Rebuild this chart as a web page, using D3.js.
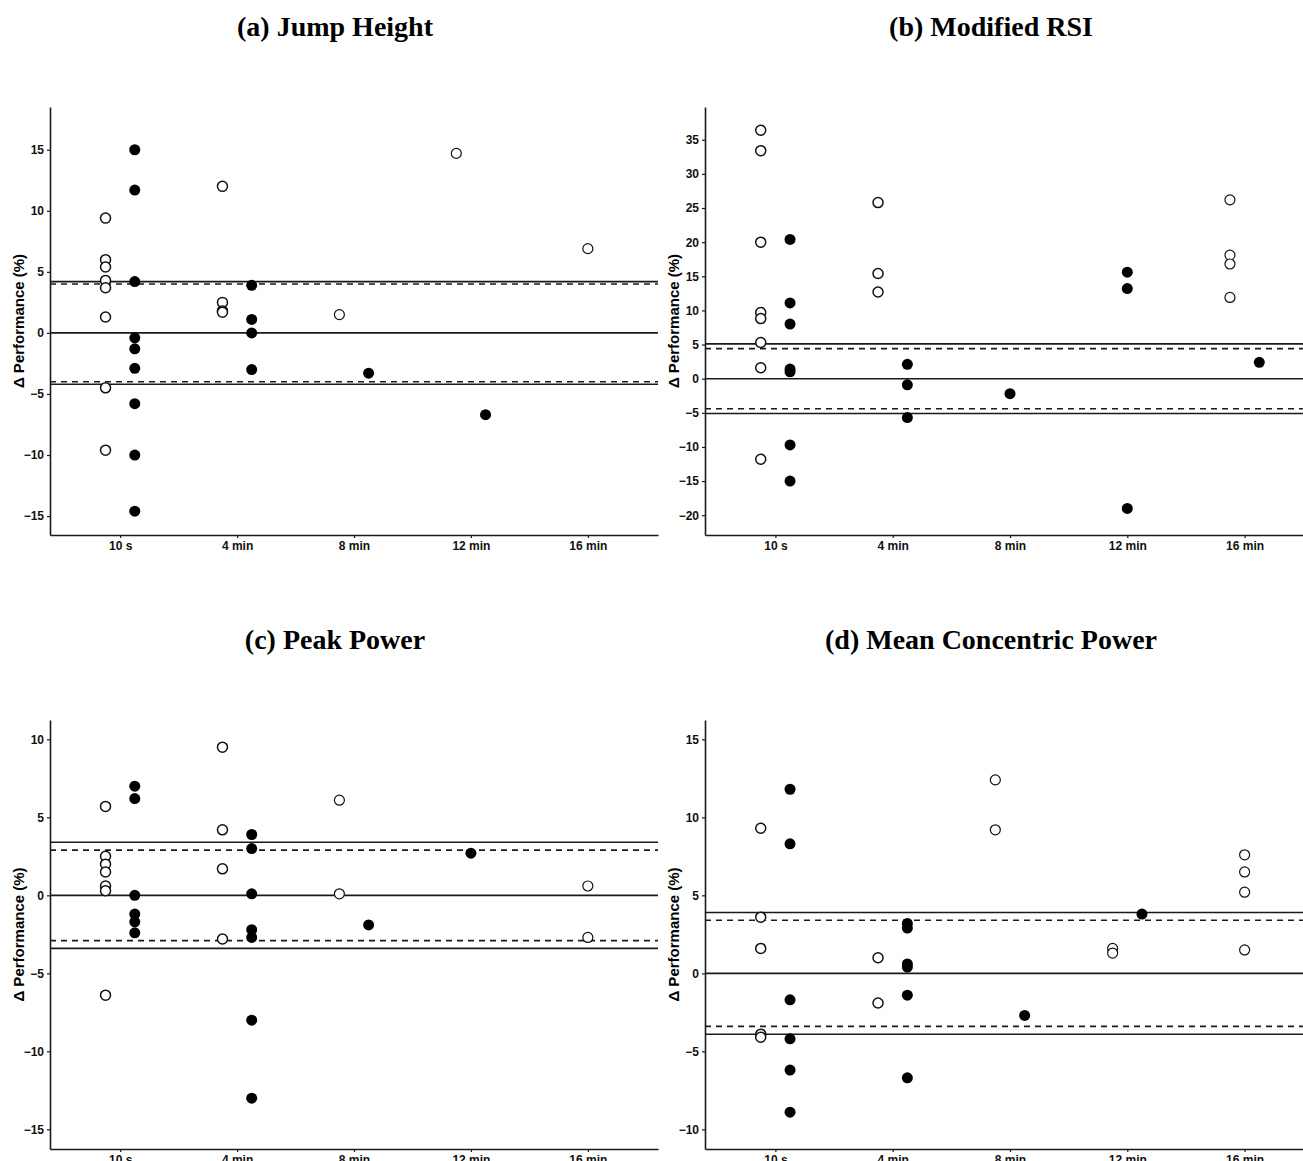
<!DOCTYPE html>
<html>
<head>
<meta charset="utf-8">
<script src="https://cdn.jsdelivr.net/npm/d3@7"></script>
<style>
  body { margin: 0; background: #fff; }
  .title { font-family: "Liberation Serif", "Times New Roman", serif; font-weight: bold; font-size: 28px; text-anchor: middle; }
  .axisLb { font-family: "Liberation Sans", Arial, sans-serif; font-weight: bold; font-size: 15px; text-anchor: middle; }
  .tick text { font-family: "Liberation Sans", Arial, sans-serif; font-weight: bold; font-size: 12px; fill: #111; }
</style>
</head>
<body>
<div id="main"></div>
<script>
// time points on the x-axis
const timeLabels = ["10 s", "4 min", "8 min", "12 min", "16 min"];

// values per time point: open circles / filled circles
const jumpOpen   = [[9.4, 6.0, 5.4, 4.3, 3.7, 1.3, -4.5, -9.6], [12.0, 2.5, 1.8, 1.7], [1.5], [14.7], [6.9]];
const jumpFilled = [[15.0, 11.7, 4.2, -0.4, -1.3, -2.9, -5.8, -10.0, -14.6], [3.9, 1.1, 0.0, -3.0], [-3.3], [-6.7], []];

const rsiOpen   = [[36.4, 33.4, 20.0, 9.7, 8.8, 5.3, 1.6, -11.8], [25.8, 15.4, 12.7], [], [], [26.2, 18.1, 16.8, 11.9]];
const rsiFilled = [[20.4, 11.1, 8.0, 1.4, 1.0, -9.7, -15.0], [2.1, -0.9, -5.7], [-2.2], [15.6, 13.2, -19.0], [2.4]];

const peakOpen   = [[5.7, 2.5, 2.0, 1.5, 0.6, 0.3, -6.4], [9.5, 4.2, 1.7, -2.8], [6.1, 0.1], [], [0.6, -2.7]];
const peakFilled = [[7.0, 6.2, 0.0, -1.2, -1.7, -2.4], [3.9, 3.0, 0.1, -2.2, -2.7, -8.0, -13.0], [-1.9], [2.7], []];

const mcpOpen   = [[9.3, 3.6, 1.6, -3.9, -4.1], [1.0, -1.9], [12.4, 9.2], [1.6, 1.3], [7.6, 6.5, 5.2, 1.5]];
const mcpFilled = [[11.8, 8.3, -1.7, -4.2, -6.2, -8.9], [3.2, 2.9, 0.6, 0.4, -1.4, -6.7], [-2.7], [3.8], []];

// limits drawn as horizontal lines (+/-)
const panelTitles   = ["(a) Jump Height", "(b) Modified RSI", "(c) Peak Power", "(d) Mean Concentric Power"];
const solidLimits   = [4.2, 5.1, 3.4, 3.9];
const dashedLimits  = [4.0, 4.4, 2.9, 3.4];

// y tick labels and y domains
const jumpTicks = [-15, -10, -5, 0, 5, 10, 15];
const rsiTicks  = [-20, -15, -10, -5, 0, 5, 10, 15, 20, 25, 30, 35];
const peakTicks = [-15, -10, -5, 0, 5, 10];
const mcpTicks  = [-10, -5, 0, 5, 10, 15];
const yDomains  = [[-16.55, 18.5], [-22.9, 39.8], [-16.26, 11.24], [-11.26, 16.24]];

const ctx = {
    w: 1303,
    h: 1161,
    dodge: 0.125,
    lineCol: "#1a1a1a",
};

function drawPanel(svg, i, openVals, filledVals, ticks, layout){
    let g = svg.append("g");
    let xScale = d3.scaleLinear().domain([0.4, 5.6]).range([layout.x0, layout.x1]);
    let yScale = d3.scaleLinear().domain(yDomains[i]).range([layout.y1, layout.y0]);

    // title
    g.append("text").classed("title", true)
      .attr("x", layout.tx).attr("y", layout.ty)
      .text(panelTitles[i]);

    // axes
    let xAx = g.append("g")
      .attr("transform", `translate(0,${layout.y1})`)
      .call(d3.axisBottom(xScale).tickValues([1, 2, 3, 4, 5])
            .tickFormat((d) => timeLabels[d - 1]).tickSizeInner(3).tickSizeOuter(0).tickPadding(3));
    let yAx = g.append("g")
      .attr("transform", `translate(${layout.x0},0)`)
      .call(d3.axisLeft(yScale).tickValues(ticks).tickSizeInner(3).tickSizeOuter(0).tickPadding(3));
    [xAx, yAx].forEach((a) => {
        a.select(".domain").attr("stroke", ctx.lineCol).attr("stroke-width", 1.6);
        a.selectAll(".tick line").attr("stroke", ctx.lineCol).attr("stroke-width", 1.2);
    });

    // y-axis label
    g.append("text").classed("axisLb", true)
      .attr("transform", `translate(${layout.lx},${(layout.y0 + layout.y1) / 2}) rotate(-90)`)
      .attr("dy", "0.35em")
      .text("\u0394 Performance (%)");

    // reference lines: 0, +/- solid, +/- dashed
    let lines = [
        {v: 0, dash: null},
        {v: solidLimits[i], dash: null}, {v: -solidLimits[i], dash: null},
        {v: dashedLimits[i], dash: "6,5"}, {v: -dashedLimits[i], dash: "6,5"},
    ];
    g.selectAll("line.ref").data(lines).enter().append("line")
      .classed("ref", true)
      .attr("x1", layout.x0).attr("x2", layout.x1)
      .attr("y1", (d) => yScale(d.v)).attr("y2", (d) => yScale(d.v))
      .attr("stroke", ctx.lineCol).attr("stroke-width", 1.6)
      .attr("stroke-dasharray", (d) => d.dash);

    // points, dodged when both groups are present at a time point
    let pts = [];
    timeLabels.forEach((t, k) => {
        let both = openVals[k].length > 0 && filledVals[k].length > 0;
        openVals[k].forEach((v) => pts.push({x: k + 1 - (both ? ctx.dodge : 0), y: v, open: true, k: k}));
        filledVals[k].forEach((v) => pts.push({x: k + 1 + (both ? ctx.dodge : 0), y: v, open: false, k: k}));
    });
    g.selectAll("circle").data(pts).enter().append("circle")
      .attr("cx", (d) => xScale(d.x))
      .attr("cy", (d) => yScale(d.y))
      .attr("r", (d) => d.open ? 5 : 5.5)
      .attr("fill", (d) => d.open ? "#fff" : "#000")
      .attr("stroke", (d) => d.open ? "#111" : "none")
      .attr("stroke-width", (d) => d.k < 2 ? 1.5 : 1.2);
}

function createViz(){
    let svg = d3.select("#main").append("svg")
      .attr("width", ctx.w).attr("height", ctx.h);
    svg.append("rect").attr("width", ctx.w).attr("height", ctx.h).attr("fill", "#fff");

    let top = {y0: 107, y1: 535, ty: 36};
    let bot = {y0: 720, y1: 1149, ty: 649};
    let left = {x0: 50, x1: 658, tx: 335, lx: 19};
    let right = {x0: 705, x1: 1315, tx: 991, lx: 674};

    drawPanel(svg, 0, jumpOpen, jumpFilled, jumpTicks, Object.assign({}, top, left));
    drawPanel(svg, 1, rsiOpen, rsiFilled, rsiTicks, Object.assign({}, top, right));
    drawPanel(svg, 2, peakOpen, peakFilled, peakTicks, Object.assign({}, bot, left));
    drawPanel(svg, 3, mcpOpen, mcpFilled, mcpTicks, Object.assign({}, bot, right));
}

createViz();
</script>
</body>
</html>
